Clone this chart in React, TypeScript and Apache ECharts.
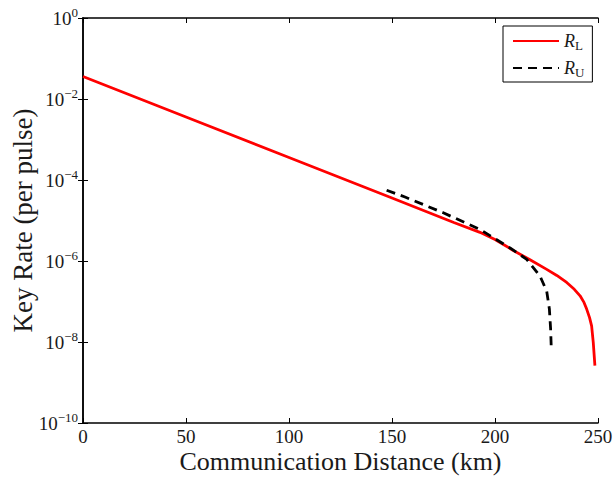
import React, { useEffect, useRef } from "react";
import * as echarts from "echarts";

const distanceL = [0, 50, 100, 150, 180, 192.7, 200, 208.9, 217, 225.1, 230, 234.8, 238.5, 241.3, 243.2, 244.5, 245.9, 246.9, 247.7, 248.5];
const rateL = [3.59e-2, 3.59e-3, 3.59e-4, 3.59e-5, 8.9e-6, 5.1e-6, 3.4e-6, 1.82e-6, 1.07e-6, 6.2e-7, 4.4e-7, 2.95e-7, 2.0e-7, 1.38e-7, 9.5e-8, 6.5e-8, 4.0e-8, 2.5e-8, 9.8e-9, 2.6e-9];

const distanceU = [147.4, 156.3, 174.9, 192.7, 207.3, 215.4, 221.8, 225.1, 226.4, 227.0, 227.3, 227.5];
const rateU = [5.6e-5, 3.8e-5, 1.55e-5, 6.0e-6, 2.1e-6, 1.1e-6, 4.3e-7, 1.8e-7, 6.5e-8, 2.1e-8, 7.5e-9, 6.0e-9];

const xTicks = [0, 50, 100, 150, 200, 250];
const yExponents = [0, -2, -4, -6, -8, -10];

const FONT = "Liberation Serif";
const TEXT = "#1a1a1a";

export default function App() {
  const ref = useRef<HTMLDivElement>(null);
  useEffect(() => {
    if (!ref.current) return;
    const chart = echarts.init(ref.current, null, { renderer: "svg" });
    const yLabel = (v: number) => {
      const e = Math.round(Math.log10(v));
      return "{b|10}{e|" + (e < 0 ? "−" + Math.abs(e) : String(e)) + "}";
    };
    const axisCommon = {
      axisLine: { show: true, lineStyle: { color: "#000", width: 1.5 } },
      axisTick: { show: true, inside: true, length: 5, lineStyle: { color: "#000", width: 1 } },
      splitLine: { show: false },
    };
    chart.setOption({
      animation: false,
      backgroundColor: "#fff",
      grid: { left: 83, right: 16, top: 18, bottom: 56, outerBoundsMode: "none", containLabel: false },
      legend: {
        left: 503,
        top: 26,
        orient: "vertical",
        itemWidth: 46,
        itemHeight: 14,
        itemGap: 7,
        padding: [6, 8, 3, 9],
        borderColor: "#000",
        borderWidth: 1,
        backgroundColor: "#fff",
        itemStyle: { opacity: 0 },
        formatter: (name: string) => (name === "R_L" ? "{i|R}{s|L}" : "{i|R}{s|U}"),
        textStyle: {
          fontFamily: FONT,
          color: TEXT,
          rich: {
            i: { fontFamily: FONT, fontStyle: "italic", fontSize: 18, color: TEXT },
            s: { fontFamily: FONT, fontSize: 13, color: TEXT, verticalAlign: "top", padding: [9, 0, 0, 0] },
          },
        },
        data: ["R_L", "R_U"],
      },
      xAxis: [
        {
          type: "value",
          min: 0,
          max: 250,
          interval: 50,
          name: "Communication Distance (km)",
          nameLocation: "middle",
          nameGap: 26,
          nameMoveOverlap: false,
          nameTextStyle: { fontFamily: FONT, fontSize: 26, color: TEXT, lineHeight: 24 },
          axisLabel: { fontFamily: FONT, fontSize: 19, color: TEXT, margin: 5, lineHeight: 17 },
          ...axisCommon,
        },
        {
          type: "value",
          position: "top",
          min: 0,
          max: 250,
          interval: 50,
          axisLabel: { show: false },
          ...axisCommon,
        },
      ],
      yAxis: [
        {
          type: "log",
          logBase: 10,
          min: 1e-10,
          max: 1,
          interval: 2,
          name: "Key Rate (per pulse)",
          nameLocation: "middle",
          nameGap: 47,
          nameMoveOverlap: false,
          nameTextStyle: { fontFamily: FONT, fontSize: 27, color: TEXT },
          axisLabel: {
            formatter: yLabel,
            margin: 5,
            rich: {
              b: { fontFamily: FONT, fontSize: 19, color: TEXT },
              e: { fontFamily: FONT, fontSize: 13, color: TEXT, verticalAlign: "bottom", padding: [0, 0, 11, 0] },
            },
          },
          minorTick: { show: false },
          ...axisCommon,
        },
        {
          type: "log",
          logBase: 10,
          min: 1e-10,
          max: 1,
          interval: 2,
          position: "right",
          axisLabel: { show: false },
          ...axisCommon,
        },
      ],
      series: [
        {
          name: "R_L",
          type: "line",
          symbol: "none",
          smooth: false,
          data: distanceL.map((d, i) => [d, rateL[i]]),
          lineStyle: { color: "#ff0000", width: 2.8 },
          itemStyle: { color: "#ff0000" },
        },
        {
          name: "R_U",
          type: "line",
          symbol: "none",
          smooth: false,
          data: distanceU.map((d, i) => [d, rateU[i]]),
          lineStyle: { color: "#000", width: 2.8, type: [9, 6] },
          itemStyle: { color: "#000" },
        },
      ],
    });
    return () => chart.dispose();
  }, []);
  return <div ref={ref} style={{ width: 614, height: 479, position: "absolute", left: 0, top: 0 }} />;
}
